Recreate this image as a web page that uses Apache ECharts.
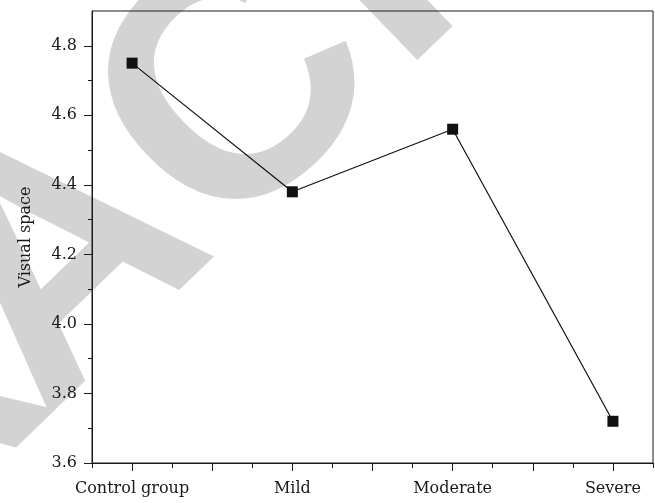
<!DOCTYPE html>
<html>
<head>
<meta charset="utf-8">
<script src="https://cdn.jsdelivr.net/npm/echarts@6/dist/echarts.min.js"></script>
<style>
  html, body { margin: 0; padding: 0; background: #fff; }
  #chart { width: 655px; height: 503px; }
</style>
</head>
<body>
<div id="chart"></div>
<script>
// 分组与数值
const categories = ['Control group', 'Mild', 'Moderate', 'Severe'];
const visualSpace = [4.75, 4.38, 4.56, 3.72];
const yTicks = [3.6, 3.8, 4.0, 4.2, 4.4, 4.6, 4.8];
const yMinorTicks = [3.7, 3.9, 4.1, 4.3, 4.5, 4.7];
const xTicks = [0, 0.5, 1, 1.5, 2, 2.5, 3];
const xMinorTicks = [-0.25, 0.25, 0.75, 1.25, 1.75, 2.25, 2.75, 3.25];

const font = 'DejaVu Serif';
const ink = '#1a1a1a';

// 水印字母（沿基线的偏移）
const markLetters = [['T', -420], ['R', -222], ['A', 0], ['C', 245], ['T', 421], ['E', 632]];

const chart = echarts.init(document.getElementById('chart'));

const option = {
  animation: false,
  // 背景水印
  graphic: [{
    type: 'group',
    x: 67,
    y: 268,
    rotation: 44 * Math.PI / 180,
    silent: true,
    children: markLetters.map(([ch, off]) => ({
      type: 'text',
      x: off,
      y: 0,
      z: -10,
      style: {
        text: ch,
        font: 'bold 340px "Liberation Sans"',
        fill: '#d3d3d3',
        align: 'center',
        verticalAlign: 'middle'
      }
    }))
  }],
  grid: {
    left: 92,
    right: 2,
    top: 11,
    bottom: 40,
    show: true,
    borderColor: ink,
    borderWidth: 1,
    backgroundColor: 'transparent'
  },
  xAxis: [{
    type: 'value',
    min: -0.25,
    max: 3.25,
    splitLine: { show: false },
    axisLine: { onZero: false, lineStyle: { color: ink, width: 1 } },
    axisTick: { customValues: xTicks, length: 8, lineStyle: { color: ink } },
    axisLabel: {
      customValues: [0, 1, 2, 3],
      formatter: (v) => categories[Math.round(v)],
      fontFamily: font,
      fontSize: 16,
      color: ink,
      margin: 18
    }
  }, {
    type: 'value',
    min: -0.25,
    max: 3.25,
    position: 'bottom',
    splitLine: { show: false },
    axisLine: { show: false, onZero: false },
    axisTick: { customValues: xMinorTicks, length: 5, lineStyle: { color: ink } },
    axisLabel: { show: false }
  }],
  yAxis: [{
    type: 'value',
    min: 3.6,
    max: 4.9,
    name: 'Visual space',
    nameLocation: 'middle',
    nameGap: 58,
    nameTextStyle: { fontFamily: font, fontSize: 16, color: ink },
    splitLine: { show: false },
    axisLine: { show: true, onZero: false, lineStyle: { color: ink, width: 1 } },
    axisTick: { customValues: yTicks, length: 8, lineStyle: { color: ink } },
    axisLabel: {
      customValues: yTicks,
      formatter: (v) => v.toFixed(1),
      fontFamily: font,
      fontSize: 16,
      color: ink,
      margin: 15
    }
  }, {
    type: 'value',
    min: 3.6,
    max: 4.9,
    position: 'left',
    splitLine: { show: false },
    axisLine: { show: false, onZero: false },
    axisTick: { customValues: yMinorTicks, length: 4, lineStyle: { color: ink } },
    axisLabel: { show: false }
  }],
  series: [{
    type: 'line',
    data: categories.map((c, i) => [i, visualSpace[i]]),
    symbol: 'rect',
    symbolSize: 11,
    itemStyle: { color: '#111' },
    lineStyle: { color: '#111', width: 1.2 }
  }]
};

chart.setOption(option);
</script>
</body>
</html>
